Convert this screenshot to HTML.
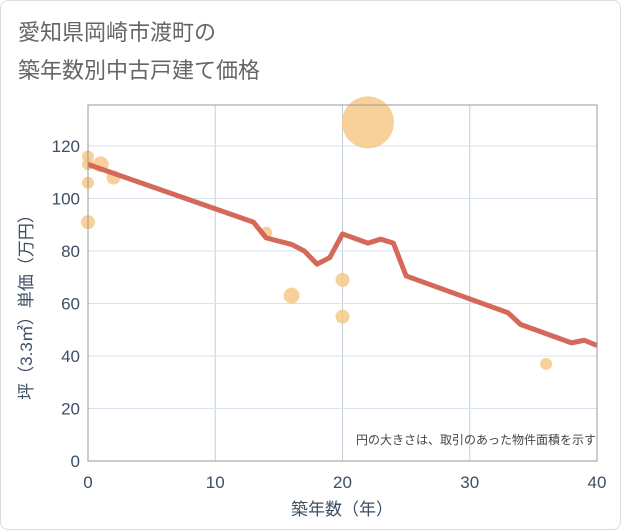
<!DOCTYPE html>
<html><head><meta charset="utf-8"><style>
body{margin:0;background:#fff;font-family:"Liberation Sans","Noto Sans CJK JP",sans-serif}
#wrap{position:relative;width:619px;height:528px;border:1px solid #ddd;border-radius:8px;overflow:hidden}
</style></head><body>
<div id="wrap">
<svg id="chart" width="621" height="530">
<text x="17" y="39" font-size="22" fill="#666">愛知県岡崎市渡町の</text>
<text x="17" y="77" font-size="22" fill="#666">築年数別中古戸建て価格</text>
<g id="grid"></g><g id="marks"></g><g id="axes"></g>
<text x="595" y="443" font-size="12" fill="#444" text-anchor="end">円の大きさは、取引のあった物件面積を示す</text>
<text x="341" y="514" font-size="17" fill="#3d4f63" text-anchor="middle">築年数（年）</text>
<text transform="translate(31,302) rotate(-90)" font-size="17" fill="#3d4f63" text-anchor="middle">坪（3.3㎡）単価（万円）</text>
</svg></div>
<script>
const xTicks=[0,10,20,30,40];
const yTicks=[0,20,40,60,80,100,120];
const lineYears=[0,13,14,16,17,18,19,20,22,23,24,25,33,34,38,39,40];
const linePrices=[113,91,85,82.5,80,75,77.5,86.5,83,84.5,83,70.5,56.5,52,45,46,44];
const ptYears=[0,0,1,0,2,0,14,16,20,20,22,36];
const ptPrices=[116,113,113,106,108,91,87,63,69,55,129,37];
const ptSizes=[6,6,8,6,7,7,6,8,7,7,26,6];
const NS="http://www.w3.org/2000/svg";
const X0=87,X1=596,Y0=460,YT=104;
const xs=v=>X0+(v-0)/40*(X1-X0);
const ys=v=>Y0-v*2.625;
function mk(tag,attrs,parent){const e=document.createElementNS(NS,tag);for(const k in attrs)e.setAttribute(k,attrs[k]);parent.appendChild(e);return e;}
const grid=document.getElementById('grid'),marks=document.getElementById('marks'),axes=document.getElementById('axes');
xTicks.forEach(t=>{
  const l=mk('line',{x1:xs(t),x2:xs(t),y1:YT,y2:Y0,stroke:'#c5cfdb','stroke-width':1},grid);
  
  
  const tx=mk('text',{x:xs(t),y:487,'font-size':17,fill:'#3d4f63','text-anchor':'middle'},axes);
  tx.textContent=t;
  
  
});
yTicks.forEach(t=>{
  const l=mk('line',{x1:X0,x2:X1,y1:ys(t),y2:ys(t),stroke:'#d6e2ee','stroke-width':1},grid);
  
  
  const tx=mk('text',{x:79,y:ys(t)+6,'font-size':17,fill:'#3d4f63','text-anchor':'end'},axes);
  tx.textContent=t;
  
  
});
const fr=mk('rect',{x:X0,y:YT,width:X1-X0,height:Y0-YT,fill:'none',stroke:'#999','stroke-width':1},axes);


ptYears.forEach((y,i)=>{
  const c=mk('circle',{cx:xs(y),cy:ys(ptPrices[i]),r:ptSizes[i],fill:'#f5c67f','fill-opacity':0.8},marks);
  
  
});
const p=mk('polyline',{points:lineYears.map((y,i)=>xs(y)+','+ys(linePrices[i])).join(' '),fill:'none',stroke:'#d4695a','stroke-width':5,'stroke-linejoin':'round'},marks);


</script>
</body></html>
